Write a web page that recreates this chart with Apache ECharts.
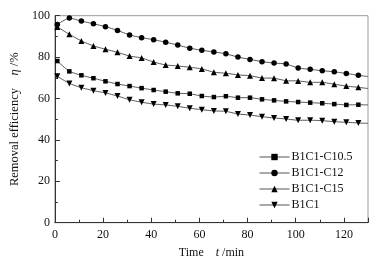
<!DOCTYPE html>
<html>
<head>
<meta charset="utf-8">
<script src="https://cdn.jsdelivr.net/npm/echarts@6/dist/echarts.min.js"></script>
<style>
html,body{margin:0;padding:0;background:#fff;}
#chart{width:385px;height:264px;}
</style>
</head>
<body>
<div id="chart"></div>
<script>
// Time (min) of each measured point
const times = [1,6,11,16,21,26,31,36,41,46,51,56,61,66,71,76,81,86,91,96,101,106,111,116,121,126];
const endTime = 130;
const seriesNames = ['B1C1-C10.5','B1C1-C12','B1C1-C15','B1C1'];
const c105 = [78.1,73.1,71.2,69.8,68.3,67.0,66.0,65.0,64.1,63.3,62.5,62.3,61.2,60.7,61.1,60.4,60.4,59.6,59.1,58.6,58.3,58.0,57.7,57.3,56.9,57.0];
const c12  = [95.8,98.9,97.4,96.1,94.7,92.9,90.7,89.4,88.4,87.2,85.8,84.3,83.3,82.5,81.6,80.0,78.9,77.8,77.1,76.7,74.7,74.1,73.4,72.9,72.1,71.2];
const c15  = [94.6,91.0,87.8,85.4,83.8,82.3,80.5,79.6,77.6,76.2,75.7,75.1,74.3,72.7,72.2,71.4,71.0,69.9,69.8,68.6,68.5,67.8,67.8,66.9,66.0,65.4];
const b1c1 = [70.7,67.3,65.2,63.8,62.7,61.2,59.4,58.2,57.3,56.9,56.2,55.3,54.6,54.0,53.8,52.5,52.0,51.2,50.6,50.1,49.5,49.5,49.3,48.8,48.5,48.2];
// line value where each curve meets the right frame (no marker)
const endValues = [56.9, 70.6, 64.8, 48.0];
const xTicks = [0,20,40,60,80,100,120];
const yTicks = [0,20,40,60,80,100];

const symbols = ['rect','circle','triangle','path://M0,0 L10,0 L5,9 Z'];
const symbolSizes = [4.5,5.5,6,6];
const allValues = [c105,c12,c15,b1c1];
const font = 'Liberation Serif, Times New Roman, serif';

const chart = echarts.init(document.getElementById('chart'), null, {renderer:'canvas'});
const series = seriesNames.map((name,i)=>{
  const data = times.map((t,j)=>[t, allValues[i][j]]);
  data.push({value:[endTime, endValues[i]], symbol:'none'});
  return {
    name, type:'line', data,
    symbol: symbols[i], symbolSize: symbolSizes[i], showSymbol:true,
    smooth: 0.15,
    lineStyle:{color:'#555', width:1},
    itemStyle:{color:'#000', borderWidth:0},
    emphasis:{disabled:true},
    clip:true
  };
});

chart.setOption({
  animation:false,
  backgroundColor:'#fff',
  textStyle:{fontFamily:font},
  grid:{left:52, right:17, top:15.7, bottom:41.3, show:true, borderColor:'#999', borderWidth:1},
  legend:{
    data: seriesNames,
    orient:'vertical', left:254, top:146,
    itemWidth:30, itemHeight:8, itemGap:4,
    textStyle:{fontFamily:font, fontSize:12, color:'#111', padding:[0,0,0,-3]},
    lineStyle:{color:'#555', width:1},
    itemStyle:{color:'#000'}
  },
  xAxis:{
    type:'value', min:0, max:endTime, interval:20,
    name:'{a|Time    }{b|t}{a| /min}', nameLocation:'middle', nameGap:24,
    nameTextStyle:{rich:{a:{fontFamily:font,fontSize:12,color:'#111'},b:{fontFamily:font,fontSize:12,fontStyle:'italic',color:'#111'}}},
    axisLine:{show:true, lineStyle:{color:'#333', width:1}},
    axisTick:{show:true, inside:true, length:5, lineStyle:{color:'#333'}},
    minorTick:{show:true, splitNumber:2, length:3, lineStyle:{color:'#333'}},
    axisLabel:{fontFamily:font, fontSize:12, color:'#111', margin:6,
      formatter:(v)=> xTicks.includes(v) ? String(v) : ''},
    splitLine:{show:false}
  },
  yAxis:{
    type:'value', min:0, max:100, interval:20,
    name:'{a|Removal efficiency    }{b|η}{a| /%}', nameLocation:'middle', nameGap:29,
    nameTextStyle:{rich:{a:{fontFamily:font,fontSize:12.5,color:'#111'},b:{fontFamily:font,fontSize:12.5,fontStyle:'italic',color:'#111'}}},
    axisLine:{show:true, lineStyle:{color:'#333', width:1}},
    axisTick:{show:true, inside:true, length:5, lineStyle:{color:'#333'}},
    minorTick:{show:true, splitNumber:2, length:3, lineStyle:{color:'#333'}},
    axisLabel:{fontFamily:font, fontSize:12, color:'#111', margin:5,
      formatter:(v)=> yTicks.includes(v) ? String(v) : ''},
    splitLine:{show:false}
  },
  series
});
</script>
</body>
</html>
